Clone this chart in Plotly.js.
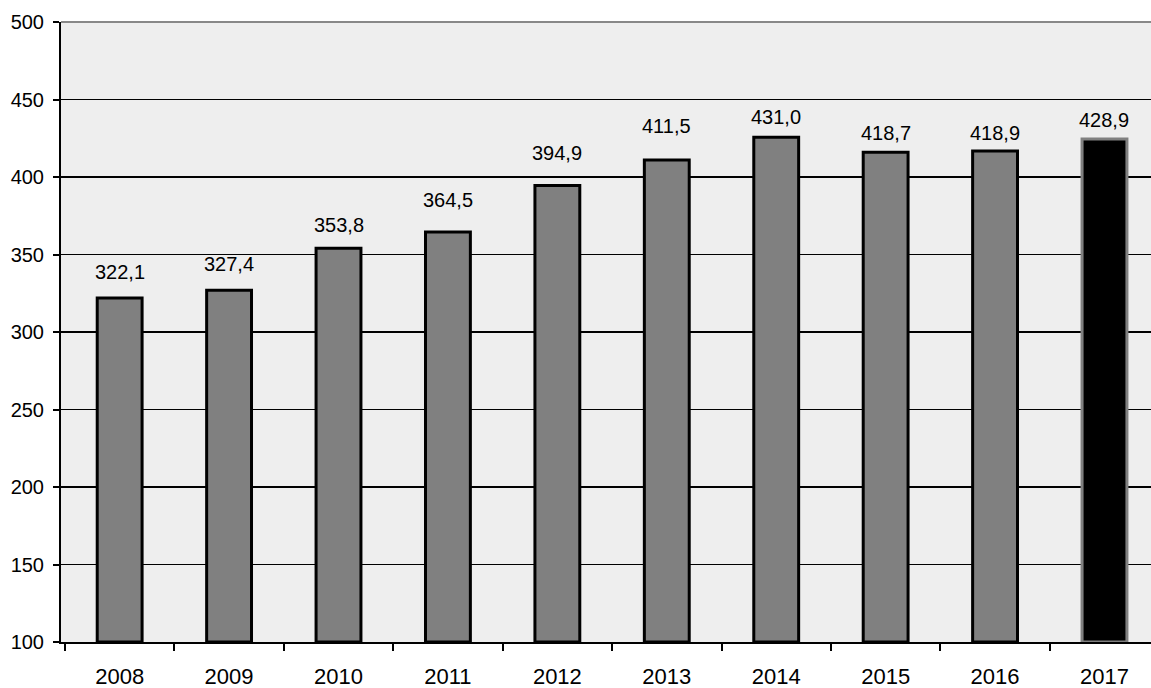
<!DOCTYPE html>
<html>
<head>
<meta charset="utf-8">
<script src="https://cdn.plot.ly/plotly-3.0.1.min.js"></script>
<style>html,body{margin:0;padding:0;background:#fff;overflow:hidden}#chart{width:1151px;height:688px}</style>
</head>
<body>
<div id="chart"></div>
<script>
// ---- data ----
var years = ["2008","2009","2010","2011","2012","2013","2014","2015","2016","2017"];
var barValues = [322.0, 327.0, 354.0, 364.5, 394.5, 411.0, 425.6, 416.0, 416.8, 424.5];
var labelTexts = ["322,1","327,4","353,8","364,5","394,9","411,5","431,0","418,7","418,9","428,9"];
var yTickValues = [100,150,200,250,300,350,400,450,500];

// ---- styling / layout ----
var labelGapPx = [26,26,23,32,33,34,20,19,18,19];
var FONT = "Liberation Sans, Arial, sans-serif";
var fills = years.map(function(_, i){ return i === years.length-1 ? "#000000" : "#808080"; });
var outlines = years.map(function(_, i){ return i === years.length-1 ? "#808080" : "#000000"; });
var BASE = 100;

var trace = {
  type: "bar",
  x: years,
  y: barValues.map(function(v){ return v - BASE; }),
  base: BASE,
  width: 0.41,
  marker: {color: fills, line: {color: outlines, width: 3}},
  hoverinfo: "skip"
};

// category axis: annotation x given as category index (numeric-looking names would be read as indices)
var annotations = years.map(function(yr, i){
  return {
    x: i, y: barValues[i], xref: "x", yref: "y",
    text: labelTexts[i], showarrow: false,
    yanchor: "middle", yshift: labelGapPx[i],
    font: {family: FONT, size: 20, color: "#000"}
  };
});

var layout = {
  width: 1151, height: 688,
  margin: {l: 61, r: 0, t: 22, b: 46},
  paper_bgcolor: "#ffffff",
  plot_bgcolor: "#eeeeee",
  showlegend: false,
  font: {family: FONT, color: "#000"},
  xaxis: {
    type: "category",
    range: [-0.536, 9.425],
    tickson: "boundaries",
    ticks: "outside", ticklen: 7, tickwidth: 2, tickcolor: "#000",
    showline: true, linecolor: "#000", linewidth: 2,
    showgrid: false,
    tickfont: {family: FONT, size: 22, color: "#000"},
    ticklabelstandoff: 14,
    layer: "below traces",
    fixedrange: true
  },
  yaxis: {
    range: [100, 500],
    tickmode: "array", tickvals: yTickValues, ticktext: yTickValues.map(String),
    ticks: "outside", ticklen: 6, tickwidth: 2, tickcolor: "#000",
    showline: true, linecolor: "#000", linewidth: 2,
    showgrid: true, gridcolor: "#000", gridwidth: 1.5,
    zeroline: false,
    tickfont: {family: FONT, size: 20, color: "#000"},
    ticklabelstandoff: 5,
    layer: "below traces",
    fixedrange: true
  },
  shapes: [{
    type: "line", xref: "paper", yref: "paper", x0: 0, x1: 1, y0: 1, y1: 1,
    line: {color: "#888888", width: 2}
  }],
  annotations: annotations
};

Plotly.newPlot("chart", [trace], layout, {displayModeBar: false, staticPlot: true});
</script>
</body>
</html>
